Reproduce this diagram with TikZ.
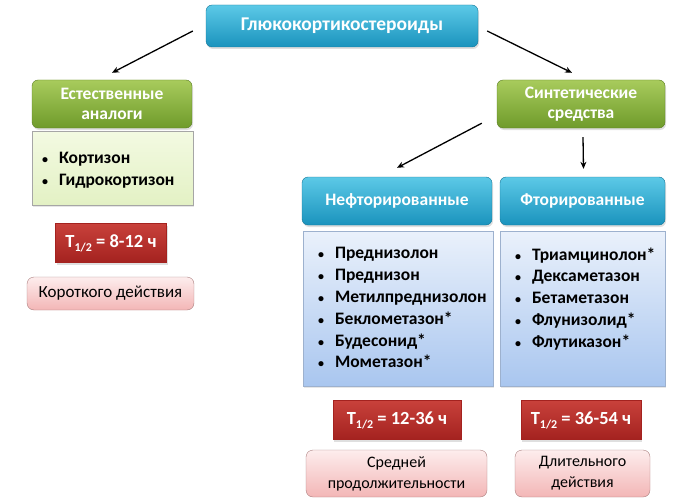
\documentclass[tikz,border=0pt]{standalone}
\usepackage{fontspec}
\setmainfont{Carlito}
\usetikzlibrary{arrows.meta,shadows}

\definecolor{cyantop}{HTML}{5CC9E7}
\definecolor{cyanbot}{HTML}{1A93BD}
\definecolor{greentop}{HTML}{A8CB5C}
\definecolor{greenbot}{HTML}{6F9B2B}
\definecolor{redtop}{HTML}{C8413B}
\definecolor{redbot}{HTML}{A4221F}
\definecolor{pinktop}{HTML}{FDEDED}
\definecolor{pinkbot}{HTML}{F3B6B6}
\definecolor{bluetop}{HTML}{EAF1FB}
\definecolor{bluebot}{HTML}{A9C6EF}
\definecolor{paletop}{HTML}{F3FAE2}
\definecolor{palebot}{HTML}{E3F1C4}

\newcommand{\druglist}[3]{\parbox[c][#1][t]{#2}{\fontsize{17.5}{21.8}\bfseries\selectfont #3}}
\newcommand{\itm}{\par\noindent\makebox[17pt][l]{\fontsize{12}{12}\selectfont•}}
\newcommand{\halflife}[1]{T\raisebox{-0.45ex}{\fontsize{12}{12}\selectfont 1/2} = #1 ч}

\begin{document}
\begin{tikzpicture}[x=1pt,y=-1pt]
\tikzset{
  box/.style={rounded corners=6pt,inner sep=2pt,align=center,
    drop shadow={opacity=0.25,shadow xshift=1pt,shadow yshift=-2pt}},
  headbox/.style={box,top color=cyantop,bottom color=cyanbot,draw=cyanbot!80!black,
    text=white,font=\fontsize{17.5}{20}\bfseries\selectfont},
  groupbox/.style={box,top color=greentop,bottom color=greenbot,draw=greenbot!80!black,
    text=white,font=\fontsize{17.5}{20}\bfseries\selectfont,
    minimum width=160pt,minimum height=48pt},
  listbox/.style={inner sep=0pt,draw=gray!70,
    drop shadow={opacity=0.2,shadow xshift=1pt,shadow yshift=-2pt}},
  timebox/.style={inner sep=0pt,top color=redtop,bottom color=redbot,draw=redbot,
    text=white,font=\fontsize{18.5}{20}\bfseries\selectfont,minimum height=39pt,
    drop shadow={opacity=0.25,shadow xshift=1pt,shadow yshift=-2pt}},
  termbox/.style={rounded corners=7pt,inner sep=0pt,top color=pinktop,bottom color=pinkbot,
    draw=pinkbot!70!black,align=center,font=\fontsize{16}{21}\selectfont},
  arr/.style={-{Stealth[length=7pt,width=6pt]},line width=1.3pt}
}
\useasboundingbox (0,0) rectangle (674,500);

% top
\node[headbox,minimum width=272pt,minimum height=42pt,font=\fontsize{19.5}{22}\bfseries\selectfont]
  (glc) at (342,26) {Глюкокортикостероиды};

% natural
\node[groupbox] (nat) at (112,104) {Естественные\\аналоги};
\node[listbox,top color=paletop,bottom color=palebot,minimum width=161pt,minimum height=74pt] (natlist) at (112.5,168)
  {\druglist{46pt}{141pt}{\vspace*{7pt}\itm Кортизон\itm Гидрокортизон}};
\node[timebox,minimum width=111pt] (natt) at (111,243) {\halflife{8-12}};
\node[termbox,minimum width=167pt,minimum height=33pt,font=\fontsize{17}{21}\selectfont]
  (natd) at (110.5,293.5) {Короткого действия};

% synthetic
\node[groupbox,minimum width=168pt] (syn) at (581,104) {Синтетические\\средства};
\node[headbox,minimum width=190pt,minimum height=48pt] (nf) at (397,201) {Нефторированные};
\node[headbox,minimum width=165pt,minimum height=48pt] (fl) at (582.5,201) {Фторированные};

\node[listbox,top color=bluetop,bottom color=bluebot,draw=bluebot!70!gray,
  minimum width=190pt,minimum height=155pt] (nflist) at (398,308.5)
  {\druglist{130pt}{160pt}{\vspace*{4pt}\itm Преднизолон\itm Преднизон\itm Метилпреднизолон
   \itm Беклометазон*\itm Будесонид*\itm Мометазон*}};
\node[listbox,top color=bluetop,bottom color=bluebot,draw=bluebot!70!gray,
  minimum width=165pt,minimum height=155pt] (fllist) at (582.5,308.5)
  {\druglist{130pt}{135pt}{\vspace*{4pt}\itm Триамцинолон*\itm Дексаметазон\itm Бетаметазон
   \itm Флунизолид*\itm Флутиказон*}};

\node[timebox,minimum width=128pt] (nft) at (397,420) {\halflife{12-36}};
\node[timebox,minimum width=120pt] (flt) at (581,420) {\halflife{36-54}};
\node[termbox,minimum width=181pt,minimum height=47pt] (nfd) at (396.5,473.5) {Средней\\продолжительности};
\node[termbox,minimum width=135pt,minimum height=47pt] (fld) at (582.5,473.5) {Длительного\\действия};

% arrows
\draw[arr] ([xshift=-13pt,yshift=-5pt]glc.west) -- ([yshift=7pt]nat.north);
\draw[arr] ([xshift=9pt,yshift=-5pt]glc.east) -- ([xshift=-9pt,yshift=7pt]syn.north);
\draw[arr] ([xshift=-15pt,yshift=5pt]syn.south west) -- ([yshift=9pt]nf.north);
\draw[arr] ([xshift=2pt,yshift=-9pt]syn.south) -- ([xshift=1pt,yshift=8pt]fl.north);
\end{tikzpicture}
\end{document}
